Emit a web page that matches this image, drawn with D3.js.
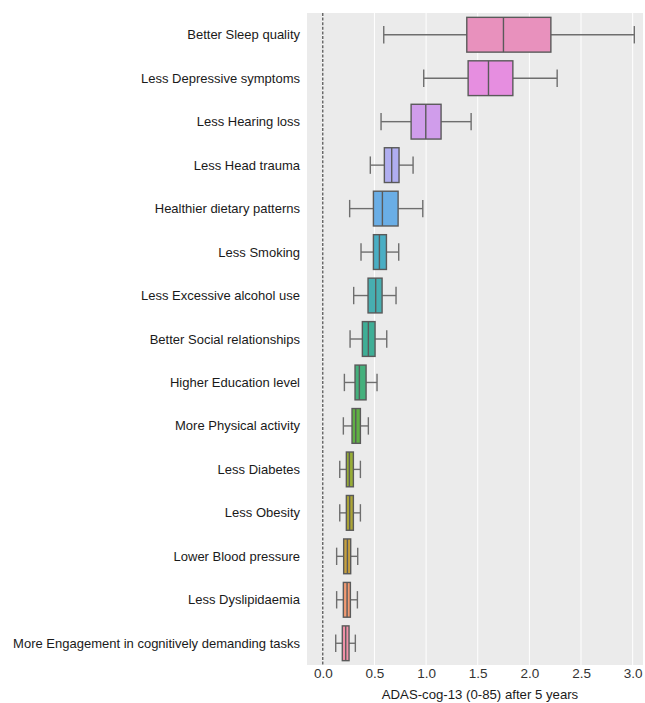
<!DOCTYPE html>
<html>
<head>
<meta charset="utf-8">
<script src="https://cdn.jsdelivr.net/npm/d3@7"></script>
<style>
  html, body { margin: 0; padding: 0; background: #ffffff; }
  svg { display: block; font-family: "Liberation Sans", Arial, sans-serif; }
</style>
</head>
<body>
<svg id="chart" width="645" height="703"></svg>
<script>
// Risk-factor categories, top to bottom
const categories = [
  "Better Sleep quality",
  "Less Depressive symptoms",
  "Less Hearing loss",
  "Less Head trauma",
  "Healthier dietary patterns",
  "Less Smoking",
  "Less Excessive alcohol use",
  "Better Social relationships",
  "Higher Education level",
  "More Physical activity",
  "Less Diabetes",
  "Less Obesity",
  "Lower Blood pressure",
  "Less Dyslipidaemia",
  "More Engagement in cognitively demanding tasks"
];

// Box statistics per category (ADAS-cog-13 points after 5 years)
const whiskerLow  = [0.59, 0.977, 0.564, 0.46, 0.26, 0.37, 0.299, 0.264, 0.209, 0.199, 0.164, 0.164, 0.134, 0.134, 0.125];
const q1          = [1.394, 1.407, 0.855, 0.596, 0.49, 0.49, 0.438, 0.383, 0.312, 0.283, 0.228, 0.228, 0.202, 0.199, 0.189];
const median      = [1.749, 1.604, 0.997, 0.667, 0.577, 0.548, 0.512, 0.441, 0.354, 0.319, 0.257, 0.26, 0.238, 0.235, 0.222];
const q3          = [2.208, 1.84, 1.145, 0.738, 0.729, 0.616, 0.574, 0.506, 0.419, 0.364, 0.296, 0.296, 0.27, 0.267, 0.254];
const whiskerHigh = [3.016, 2.269, 1.436, 0.874, 0.968, 0.735, 0.709, 0.619, 0.525, 0.441, 0.364, 0.364, 0.338, 0.335, 0.315];

const boxColors = [
  "#e891bd", "#e68ee0", "#d09deb", "#b0aef0", "#6aaee6",
  "#4aaec4", "#47aeb0", "#3fae96", "#44b07c", "#60b044",
  "#98ae36", "#ada636", "#c7a03e", "#f19a72", "#f191a8"
];

const xTicks = [0, 0.5, 1.0, 1.5, 2.0, 2.5, 3.0];
const xLabel = "ADAS-cog-13 (0-85) after 5 years";

const rows = categories.map((c, i) => ({
  name: c, lo: whiskerLow[i], q1: q1[i], med: median[i], q3: q3[i], hi: whiskerHigh[i], color: boxColors[i]
}));

const margin = { top: 13, right: 2, bottom: 38, left: 307 };
const W = 645, H = 703;
const innerW = W - margin.left - margin.right;
const innerH = H - margin.top - margin.bottom;

const svg = d3.select("#chart");
const g = svg.append("g").attr("transform", `translate(${margin.left},${margin.top})`);

const x = d3.scaleLinear().domain([-0.153, 3.10]).range([0, innerW]);
const y = d3.scaleBand().domain(categories).range([0, innerH]).paddingInner(0.2).paddingOuter(0.1);

// panel background
g.append("rect").attr("width", innerW).attr("height", innerH).attr("fill", "#ebebeb");

// vertical gridlines
g.selectAll("line.grid").data(xTicks).join("line")
  .attr("class", "grid")
  .attr("x1", d => x(d)).attr("x2", d => x(d))
  .attr("y1", 0).attr("y2", innerH)
  .attr("stroke", "#ffffff").attr("stroke-width", 1);

// reference line at zero
g.append("line")
  .attr("x1", x(0)).attr("x2", x(0)).attr("y1", 0).attr("y2", innerH)
  .attr("stroke", "#3a3a3a").attr("stroke-width", 1.1).attr("stroke-dasharray", "3,1.6");

const edge = "#5a5a5a";
const whisk = "#6e6e6e";
const bw = y.bandwidth();

const box = g.selectAll("g.box").data(rows).join("g")
  .attr("class", "box")
  .attr("transform", d => `translate(0,${y(d.name)})`);

// whiskers
box.append("line").attr("x1", d => x(d.lo)).attr("x2", d => x(d.q1))
  .attr("y1", bw / 2).attr("y2", bw / 2).attr("stroke", whisk).attr("stroke-width", 1.4);
box.append("line").attr("x1", d => x(d.q3)).attr("x2", d => x(d.hi))
  .attr("y1", bw / 2).attr("y2", bw / 2).attr("stroke", whisk).attr("stroke-width", 1.4);
// caps
box.append("line").attr("x1", d => x(d.lo)).attr("x2", d => x(d.lo))
  .attr("y1", bw / 4).attr("y2", bw * 3 / 4).attr("stroke", whisk).attr("stroke-width", 1.4);
box.append("line").attr("x1", d => x(d.hi)).attr("x2", d => x(d.hi))
  .attr("y1", bw / 4).attr("y2", bw * 3 / 4).attr("stroke", whisk).attr("stroke-width", 1.4);
// box
box.append("rect")
  .attr("x", d => x(d.q1)).attr("width", d => x(d.q3) - x(d.q1))
  .attr("y", 0).attr("height", bw)
  .attr("fill", d => d.color).attr("stroke", edge).attr("stroke-width", 1.4);
// median
box.append("line").attr("x1", d => x(d.med)).attr("x2", d => x(d.med))
  .attr("y1", 0).attr("y2", bw).attr("stroke", edge).attr("stroke-width", 1.4);

// y labels
g.selectAll("text.ylab").data(categories).join("text")
  .attr("class", "ylab")
  .attr("x", -7).attr("y", d => y(d) + bw / 2)
  .attr("dy", "0.35em").attr("text-anchor", "end")
  .attr("font-size", 13).attr("fill", "#1a1a1a")
  .text(d => d);

// x axis
const xAxis = g.append("g").attr("transform", `translate(0,${innerH})`)
  .call(d3.axisBottom(x).tickValues(xTicks).tickFormat(d3.format(".1f")).tickSize(0).tickPadding(3));
xAxis.select(".domain").remove();
xAxis.selectAll("text").attr("font-size", 13.5).attr("fill", "#333").attr("font-family", "Liberation Sans, Arial, sans-serif");

g.append("text")
  .attr("x", innerW / 2 + 5).attr("y", innerH + 34)
  .attr("text-anchor", "middle").attr("font-size", 13.2).attr("fill", "#1a1a1a")
  .text(xLabel);
</script>
</body>
</html>
